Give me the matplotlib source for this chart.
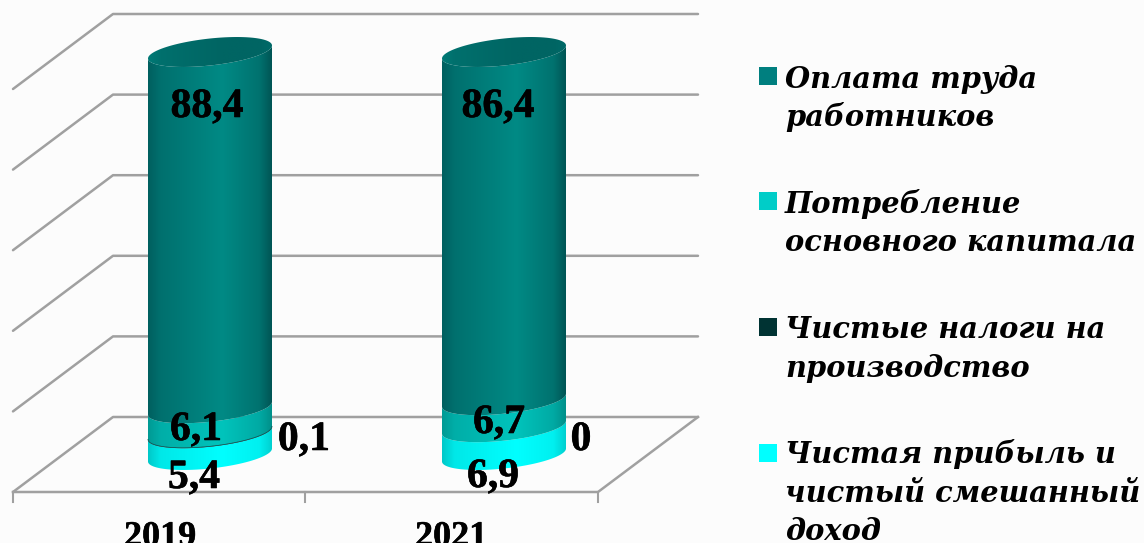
#!/usr/bin/env python3
# -*- coding: utf-8 -*-
"""Stacked cylinders 2019 / 2021 drawn on a flat axes, value axis goes 0..100."""

import numpy as np
import matplotlib
matplotlib.use("Agg")
import matplotlib.pyplot as plt
import matplotlib.patheffects as pe
from matplotlib.colors import LinearSegmentedColormap
from matplotlib.patches import Polygon, Rectangle

W, H = 1144, 543

years = ["2019", "2021"]
# stacked bottom to top
profit = [5.4, 6.9]
taxes = [0.1, 0.0]
capital = [6.1, 6.7]
wages = [88.4, 86.4]
stack = [profit, taxes, capital, wages]
legend_labels = [
    "Оплата труда\nработников",
    "Потребление\nосновного капитала",
    "Чистые налоги на\nпроизводство",
    "Чистая прибыль и\nчистый смешанный\nдоход",
]
grid_levels = [0, 20, 40, 60, 80, 100]

# pixel layout of the picture
PX_PER_VALUE = 4.03
PX_PER_CAT = 294.0
CAT0_X = 210.0
BASE_Y = 455.0
HALF_W = 62.0 / PX_PER_CAT
MINOR = 13.5 / PX_PER_VALUE
TILT = 6.5 / PX_PER_VALUE

stops = [0.0, 0.1, 0.6, 0.9, 1.0]
cmaps = [
    ["#00c8c8", "#00e8e8", "#00ffff", "#00f0f0", "#00d0d0"],
    ["#002c2c", "#003c3c", "#004444", "#003c3c", "#002c2c"],
    ["#009a94", "#00aea8", "#00c4bc", "#00aaa4", "#00908a"],
    ["#005f5f", "#00706e", "#008a85", "#00726f", "#005555"],
]
label_pos = [  # x centre and baseline in pixels, same order as stack
    [(194, 488), (493, 487)],
    [(304, 450), (581, 450)],
    [(196, 440), (499, 433)],
    [(207, 117), (498, 117)],
]
legend_colors = ["#007f7f", "#00cdc8", "#003333", "#00ffff"]
legend_swatch_y = [67, 192, 318, 444]
legend_baselines = [[88, 126], [213, 251], [338, 377], [463, 502, 540]]
GRAY = "#a0a0a0"
BG = "#fcfcfc"
BOLDER = [pe.withStroke(linewidth=0.4, foreground="black")]


def px_x(x):
    return (x - CAT0_X) / PX_PER_CAT


def px_y(y):
    return (BASE_Y - y) / PX_PER_VALUE


def front_arc(x0, v):
    t = np.linspace(np.pi, 2 * np.pi, 80)
    return x0 + HALF_W * np.cos(t), v + TILT * np.cos(t) + MINOR * np.sin(t)


def make_cmap(colors):
    return LinearSegmentedColormap.from_list("c", list(zip(stops, colors)))


fig = plt.figure(figsize=(W / 100, H / 100), dpi=100, facecolor=BG)
ax = fig.add_axes([0, 0, 1, 1])
ax.set_axis_off()

# back wall, side wall and floor
for level in grid_levels:
    y = 417 - level * PX_PER_VALUE
    ax.plot([px_x(13), px_x(113), px_x(698)], [px_y(y + 75), px_y(y), px_y(y)],
            color=GRAY, lw=1.8, zorder=1, solid_capstyle="round")
ax.plot([px_x(13), px_x(598), px_x(698)], [px_y(492), px_y(492), px_y(417)],
        color=GRAY, lw=1.8, zorder=1)
for tx in (13, 305, 598):
    ax.plot([px_x(tx), px_x(tx)], [px_y(492), px_y(502)], color=GRAY, lw=1.5, zorder=1)

grad = np.linspace(0, 1, 256).reshape(1, -1)
for i in range(len(years)):
    bottom = 0.0
    for s, series in enumerate(stack):
        top = bottom + series[i]
        xa, ya = front_arc(i, bottom)
        xb, yb = front_arc(i, top)
        clip = Polygon(np.column_stack([np.r_[xa, xb[::-1]], np.r_[ya, yb[::-1]]]),
                       closed=True, transform=ax.transData, fc="none", ec="none")
        ax.add_patch(clip)
        im = ax.imshow(grad, extent=(i - HALF_W, i + HALF_W, bottom - 6, top + 6),
                       aspect="auto", cmap=make_cmap(cmaps[s]), zorder=2 + s * 0.1)
        im.set_clip_path(clip)
        if 0 < series[i] < 1:
            ax.plot(xb, yb, color=cmaps[s][2], lw=0.5, zorder=2.5)
        bottom = top

    # top cap
    t = np.linspace(0, 2 * np.pi, 160)
    capx = i + HALF_W * np.cos(t)
    capy = bottom + TILT * np.cos(t) + MINOR * np.sin(t)
    cap = Polygon(np.column_stack([capx, capy]), closed=True, transform=ax.transData,
                  fc="none", ec="none")
    ax.add_patch(cap)
    im = ax.imshow(grad, extent=(i - HALF_W, i + HALF_W, bottom - 6, bottom + 6), aspect="auto",
                   cmap=make_cmap(["#007a76", "#00706d", "#006563", "#006563", "#006a68"]), zorder=3)
    im.set_clip_path(cap)

ax.set_xlim(px_x(0), px_x(W))
ax.set_ylim(px_y(H), px_y(0))

# value labels
for s, series in enumerate(stack):
    for i, v in enumerate(series):
        x, y = label_pos[s][i]
        ax.text(px_x(x), px_y(y), f"{v:g}".replace(".", ","), family="Liberation Serif",
                weight="bold", fontsize=30, ha="center", va="baseline", color="black",
                zorder=5, path_effects=BOLDER)

# category labels, the picture cuts them at the bottom edge
for name, cx in zip(years, (160, 451)):
    ax.text(px_x(cx), px_y(546), name, family="Liberation Serif", weight="bold", fontsize=26,
            ha="center", va="baseline", color="black", zorder=5, path_effects=BOLDER)

# legend by hand
for label, color, sy, bases in zip(legend_labels, legend_colors, legend_swatch_y, legend_baselines):
    ax.add_patch(Rectangle((px_x(759), px_y(sy + 18)), 18 / PX_PER_CAT, 18 / PX_PER_VALUE,
                           fc=color, ec="none", zorder=5))
    for line, base in zip(label.split("\n"), bases):
        ax.text(px_x(785), px_y(base), line, family="DejaVu Serif", style="italic",
                weight="bold", fontsize=20.8, ha="left", va="baseline", color="black", zorder=5)

fig.savefig("out.png", dpi=100, facecolor=BG)
